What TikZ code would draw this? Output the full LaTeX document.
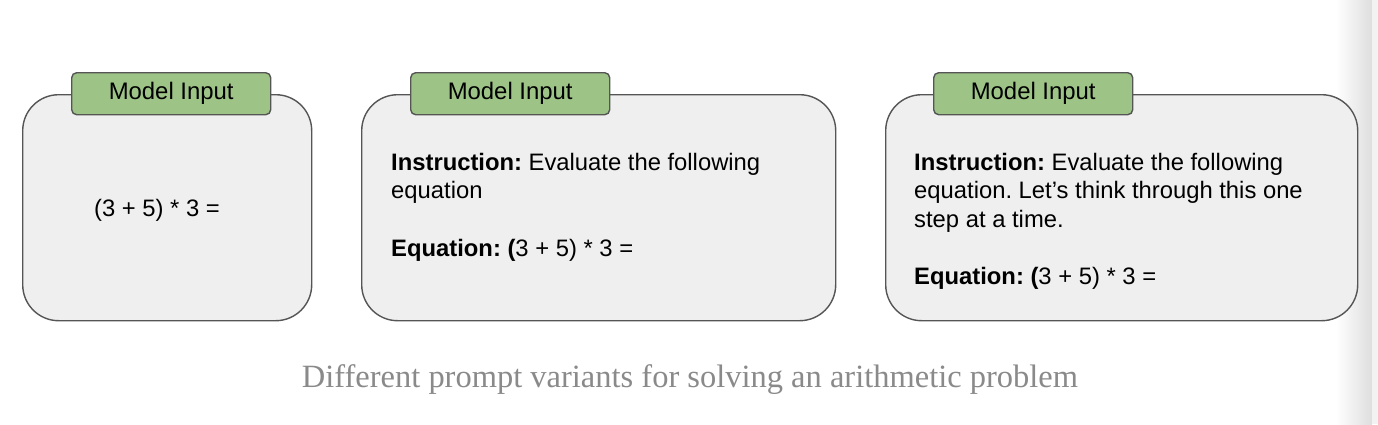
\documentclass[tikz,border=0pt]{standalone}
\usepackage{fontspec}
\usepackage{graphicx}
\newfontfamily\arial{Liberation Sans}
\newfontfamily\capfont{Liberation Serif}
\definecolor{boxfill}{HTML}{EFEFEF}
\definecolor{boxline}{HTML}{555555}
\definecolor{tabfill}{HTML}{9DC486}
\definecolor{capgray}{HTML}{8A8A8A}
\frenchspacing
\begin{document}
\frenchspacing
\begin{tikzpicture}[x=1pt,y=-1pt,
  panel/.style={draw=boxline, fill=boxfill, line width=1.4pt, rounded corners=36pt, anchor=north west, inner sep=0pt, minimum height=226pt},
  tabbox/.style={draw=boxline, fill=tabfill, line width=1.4pt, rounded corners=5pt, minimum width=199pt, minimum height=42pt, anchor=north west, inner sep=0pt, font=\arial\fontsize{23.9}{28.7}\selectfont, text=black},
  body/.style={anchor=base west, inner sep=0pt, font=\arial\fontsize{23.8}{28.7}\selectfont\frenchspacing, text=black},
]
\useasboundingbox[fill=white] (0,0) rectangle (1378,424);
% right-edge shadow
\shade[left color=white, right color=black!13] (1336,0) rectangle (1372,424);
\fill[black!5] (1372,0) rectangle (1378,424);

% panels
\node[panel, minimum width=289pt] (b1) at (22,94) {};
\node[panel, minimum width=474pt] (b2) at (361,94) {};
\node[panel, minimum width=472pt] (b3) at (885,94) {};

% tabs
\node[tabbox] (t1) at (71,72) {Model Input};
\node[tabbox] (t2) at (410,72) {Model Input};
\node[tabbox] (t3) at (933,72) {Model Input};

% panel 1
\node[body, anchor=base] (p1) at (157,216) {(3 + 5) * 3 =};

% panel 2
\node[body] (p2a) at (391,170) {\textbf{Instruction:} Evaluate the following};
\node[body] (p2b) at (391,198) {equation};
\node[body] (p2c) at (391,256) {\textbf{Equation: (}3 + 5) * 3 =};

% panel 3
\node[body] (p3a) at (914,170) {\textbf{Instruction:} Evaluate the following};
\node[body] (p3b) at (914,198) {equation. Let’s think through this one};
\node[body] (p3c) at (914,227) {step at a time.};
\node[body] (p3d) at (914,284) {\textbf{Equation: (}3 + 5) * 3 =};

% caption
\node[anchor=base, inner sep=0pt, text=capgray, font=\capfont] (cap) at (690,387) {\resizebox{776pt}{!}{Different prompt variants for solving an arithmetic problem}};
\end{tikzpicture}
\end{document}
